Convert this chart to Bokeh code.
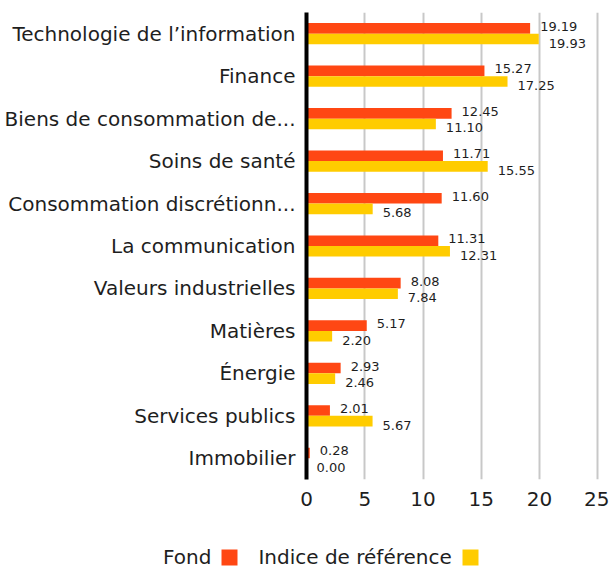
from bokeh.plotting import figure
from bokeh.layouts import column
from bokeh.models import (ColumnDataSource, FactorRange, Range1d, FixedTicker,
                          Legend, LegendItem)
from bokeh.transform import dodge
from bokeh.core.properties import value
from bokeh.embed import file_html
from bokeh.resources import INLINE

categories = ["Technologie de l\u2019information", "Finance",
              "Biens de consommation de...", "Soins de sant\u00e9",
              "Consommation discr\u00e9tionn...", "La communication",
              "Valeurs industrielles", "Mati\u00e8res", "\u00c9nergie",
              "Services publics", "Immobilier"]
fund = [19.19, 15.27, 12.45, 11.71, 11.60, 11.31, 8.08, 5.17, 2.93, 2.01, 0.28]
bench = [19.93, 17.25, 11.10, 15.55, 5.68, 12.31, 7.84, 2.20, 2.46, 5.67, 0.00]
x_ticks = [0, 5, 10, 15, 20, 25]
series_names = ["Fond", "Indice de r\u00e9f\u00e9rence"]

RED = "#FF4713"
YEL = "#FFCC00"
FONT = "DejaVu Sans"
TXT = "#1e1e1e"

src = ColumnDataSource(dict(
    cat=categories, fund=fund, bench=bench,
    fund_lbl=[f"{v:.2f}" for v in fund],
    bench_lbl=[f"{v:.2f}" for v in bench],
))

p = figure(width=609, height=530, output_backend="svg", toolbar_location=None,
           y_range=FactorRange(factors=list(reversed(categories)), range_padding=0),
           x_range=Range1d(0, 25.4),
           min_border_left=306, min_border_right=7, min_border_top=12,
           min_border_bottom=51)
p.frame_align = False
p.outline_line_color = None
p.background_fill_color = None
p.border_fill_color = None

p.hbar(y=dodge("cat", 0.125, range=p.y_range), left=0, right="fund",
       height=0.25, fill_color=RED, line_color=None, source=src)
p.hbar(y=dodge("cat", -0.125, range=p.y_range), left=0, right="bench",
       height=0.25, fill_color=YEL, line_color=None, source=src)

p.text(x="fund", y=dodge("cat", 0.125, range=p.y_range), text="fund_lbl",
       x_offset=10, y_offset=-2, text_baseline="middle", text_align="left",
       text_font=value(FONT), text_font_size="13px", text_color=TXT, source=src)
p.text(x="bench", y=dodge("cat", -0.125, range=p.y_range), text="bench_lbl",
       x_offset=10, y_offset=4, text_baseline="middle", text_align="left",
       text_font=value(FONT), text_font_size="13px", text_color=TXT, source=src)

# axes
p.xaxis.ticker = FixedTicker(ticks=x_ticks)
p.xaxis.axis_line_color = None
p.xaxis.major_tick_line_color = None
p.xaxis.minor_tick_line_color = None
p.xaxis.major_label_text_font = FONT
p.xaxis.major_label_text_font_size = "20px"
p.xaxis.major_label_text_color = TXT
p.xaxis.major_label_standoff = 6

p.yaxis.axis_line_color = "black"
p.yaxis.axis_line_width = 4
p.yaxis.major_tick_line_color = None
p.yaxis.minor_tick_line_color = None
p.yaxis.major_label_text_font = FONT
p.yaxis.major_label_text_font_size = "20px"
p.yaxis.major_label_text_color = TXT
p.yaxis.major_label_standoff = 5

p.ygrid.grid_line_color = None
p.xgrid.ticker = FixedTicker(ticks=x_ticks)
p.xgrid.grid_line_color = "#c8c8c8"
p.xgrid.grid_line_width = 2

# legend strip (label then swatch, as in the reference)
lg = figure(width=609, height=43, output_backend="svg", toolbar_location=None,
            x_range=Range1d(0, 25), y_range=FactorRange(factors=series_names),
            x_axis_location=None, y_axis_location=None,
            min_border_left=0, min_border_right=0, min_border_top=0,
            min_border_bottom=0)
lg.frame_align = False
lg.outline_line_color = None
lg.xgrid.visible = False
lg.ygrid.visible = False
lg.background_fill_color = None
lg.border_fill_color = None
# legend proxies share the chart data; their categories are not on this strip's
# range, so they draw nothing here and only supply the legend swatches
proxy_blank = lg.hbar(y="cat", left=0, right="fund", height=0.5, source=src,
                      fill_alpha=0, line_alpha=0)
proxy_fund = lg.hbar(y="cat", left=0, right="fund", height=0.5, source=src,
                     fill_color=RED, line_color=None)
proxy_bench = lg.hbar(y="cat", left=0, right="bench", height=0.5, source=src,
                      fill_color=YEL, line_color=None)

legend = Legend(items=[
    LegendItem(label=series_names[0], renderers=[proxy_blank]),
    LegendItem(label=series_names[1], renderers=[proxy_fund]),
    LegendItem(label=" ", renderers=[proxy_bench]),
], orientation="horizontal", location=(124, 4),
    glyph_width=20, glyph_height=20, label_standoff=19, spacing=8,
    padding=0, margin=0, label_width=0, label_height=20,
    border_line_color=None, background_fill_alpha=0,
    label_text_font=FONT, label_text_font_size="20px", label_text_color=TXT)
lg.add_layout(legend, "center")

layout = column(p, lg, spacing=0)
open("out.html", "w").write(file_html(layout, INLINE))
